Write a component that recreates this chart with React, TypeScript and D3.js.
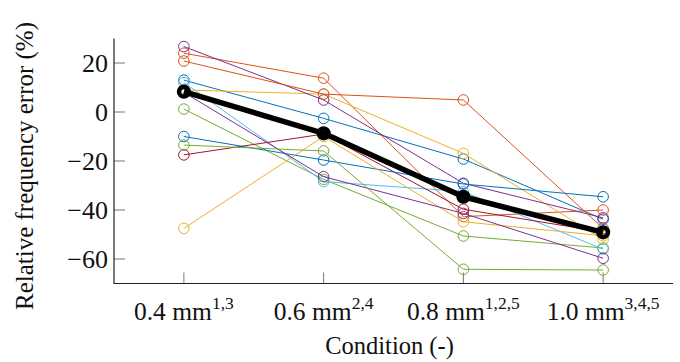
import React from "react";
import * as d3 from "d3";

const categories = ["0.4 mm", "0.6 mm", "0.8 mm", "1.0 mm"];
const superscripts = ["1,3", "2,4", "1,2,5", "3,4,5"];
const yTicks = [20, 0, -20, -40, -60];

const colorOrder = ["#0072BD", "#D95319", "#EDB120", "#7E2F8E", "#77AC30", "#4DBEEE", "#A2142F"];

const s1 = [13, -2.6, -19.2, -43.8];
const s2 = [24, 13.8, -42.7, -40];
const s3 = [9, 7.3, -16.9, -52];
const s4 = [26.7, 4.9, -29.1, -43.2];
const s5 = [1.2, -27.5, -50.6, -55.5];
const s6 = [12, -28.4, -32.5, -56];
const s7 = [-17.5, -9, -39.7, -49];
const s8 = [-10, -19.6, -29.4, -34.6];
const s9 = [20.8, 7.3, 4.9, -47.5];
const s10 = [-47.5, -10, -44.8, -50.5];
const s11 = [8, -26.4, -41.4, -59.7];
const s12 = [-13.5, -15.9, -64.2, -64.5];
const meanSeries = [8.3, -8.7, -34.6, -49.1];

const allSeries = [s1, s2, s3, s4, s5, s6, s7, s8, s9, s10, s11, s12];

const W = 680;
const H = 362;
const left = 114;
const right = 673;
const top = 38.5;
const bottom = 283.5;
const FONT = '"Liberation Serif", "DejaVu Serif", "Times New Roman", serif';
const textStyle = { fontFamily: FONT };

export default function App() {
  const x = d3.scalePoint<string>().domain(categories).range([left, right]).padding(0.5);
  const y = d3.scaleLinear().domain([-70, 30]).range([bottom, top]);
  const line = d3
    .line<number>()
    .x((_, i) => x(categories[i]) as number)
    .y((d) => y(d));

  return (
    <svg width={W} height={H} style={{ position: "absolute", left: 0, top: 0, background: "#fff" }}>
      {yTicks.map((t) => (
        <line key={"yt" + t} x1={left} x2={left + 11} y1={y(t)} y2={y(t)} stroke="#777" strokeWidth={1} />
      ))}
      {categories.map((c) => (
        <line key={"xt" + c} x1={x(c)} x2={x(c)} y1={bottom} y2={bottom - 11} stroke="#777" strokeWidth={1} />
      ))}
      {allSeries.map((s, i) => {
        const col = colorOrder[i % colorOrder.length];
        return (
          <g key={"s" + i}>
            <path d={line(s) || ""} fill="none" stroke={col} strokeWidth={1} />
            {s.map((v, j) => (
              <circle key={j} cx={x(categories[j])} cy={y(v)} r={5.3} fill="none" stroke={col} strokeWidth={1} />
            ))}
          </g>
        );
      })}
      <g>
        <path d={line(meanSeries) || ""} fill="none" stroke="#000" strokeWidth={5.5} strokeLinejoin="round" />
        {meanSeries.map((v, j) => (
          <circle key={j} cx={x(categories[j])} cy={y(v)} r={4.8} fill="none" stroke="#000" strokeWidth={4.6} />
        ))}
      </g>
      <line x1={left} x2={left} y1={top} y2={bottom + 0.5} stroke="#222" strokeWidth={1.2} />
      <line x1={left} x2={right} y1={bottom} y2={bottom} stroke="#222" strokeWidth={1.2} />
      {yTicks.map((t) => (
        <text key={"yl" + t} x={108} y={y(t)} dy="0.34em" textAnchor="end" style={textStyle} fontSize={26} fill="#111">
          {t < 0 ? "\u2212" + Math.abs(t) : String(t)}
        </text>
      ))}
      {categories.map((c, i) => (
        <text key={"xl" + c} x={x(c)} y={320} textAnchor="middle" style={textStyle} fontSize={25.5} fill="#111">
          {c}
          <tspan fontSize={17.5} dy={-11}>
            {superscripts[i]}
          </tspan>
        </text>
      ))}
      <text x={(left + right) / 2 - 4} y={354} textAnchor="middle" style={textStyle} fontSize={24.5} fill="#111">
        Condition (-)
      </text>
      <text transform={`translate(33,166) rotate(-90)`} textAnchor="middle" style={textStyle} fontSize={25} fill="#111">
        Relative frequency error (%)
      </text>
    </svg>
  );
}
